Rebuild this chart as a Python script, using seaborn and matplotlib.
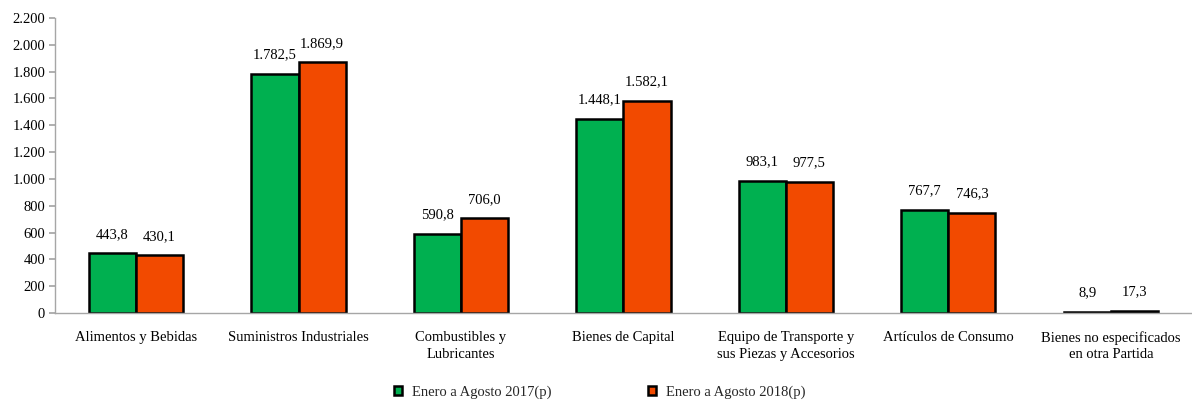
import matplotlib
matplotlib.use("Agg")
import matplotlib.pyplot as plt
import seaborn as sns
import pandas as pd
from matplotlib.ticker import FuncFormatter

categories = ["Alimentos y Bebidas", "Suministros Industriales", "Combustibles y\nLubricantes",
              "Bienes de Capital", "Equipo de Transporte y\nsus Piezas y Accesorios",
              "Artículos de Consumo", "Bienes no especificados\nen otra Partida"]
series_names = ["Enero a Agosto 2017(p)", "Enero a Agosto 2018(p)"]
values_2017 = [443.8, 1782.5, 590.8, 1448.1, 983.1, 767.7, 8.9]
values_2018 = [430.1, 1869.9, 706.0, 1582.1, 977.5, 746.3, 17.3]
yticks = list(range(0, 2201, 200))

colors = ["#00B050", "#F24A00"]

df = pd.DataFrame({
    "cat": categories * 2,
    "serie": [series_names[0]] * len(categories) + [series_names[1]] * len(categories),
    "val": values_2017 + values_2018,
})

sns.set_theme(style="white")
plt.rcParams["font.family"] = ["Liberation Serif", "DejaVu Serif"]

fig = plt.figure(figsize=(11.92, 4.0), dpi=100)
ax = fig.add_axes([0.046, 0.2175, 0.954, 0.7375])

sns.barplot(data=df, x="cat", y="val", hue="serie", palette=colors, ax=ax,
            width=0.58, edgecolor="black", linewidth=1.8, saturation=1)

def fmt_es(v, dec=1):
    s = f"{v:,.{dec}f}"
    return s.replace(",", "X").replace(".", ",").replace("X", ".")

for cont in ax.containers:
    ax.bar_label(cont, labels=[fmt_es(b.get_height()) for b in cont], padding=9,
                 fontsize=10.5, color="black")

ax.set_ylim(0, 2200)
ax.set_yticks(yticks)
ax.yaxis.set_major_formatter(FuncFormatter(lambda v, p: fmt_es(v, 0)))
ax.set_xlim(-0.5, len(categories) - 0.5)
ax.set_xlabel("")
ax.set_ylabel("")

for s in ["top", "right"]:
    ax.spines[s].set_visible(False)
for s in ["left", "bottom"]:
    ax.spines[s].set_color("#A6A6A6")
    ax.spines[s].set_linewidth(1.0)

ax.tick_params(axis="y", which="both", left=True, length=4, color="#A6A6A6",
               labelsize=10.5, labelcolor="black", pad=3)
ax.tick_params(axis="x", bottom=False, labelsize=10.5, labelcolor="black", pad=7)
for t in ax.get_xticklabels():
    t.set_linespacing(1.35)

handles, labels = ax.get_legend_handles_labels()
ax.get_legend().remove()
fig.legend(handles, labels, loc="center", bbox_to_anchor=(0.503, 0.02), ncol=2,
           frameon=False, fontsize=10.5, handlelength=0.6, handleheight=0.6,
           columnspacing=6.6, handletextpad=0.65)

fig.savefig("out.png", dpi=100)
